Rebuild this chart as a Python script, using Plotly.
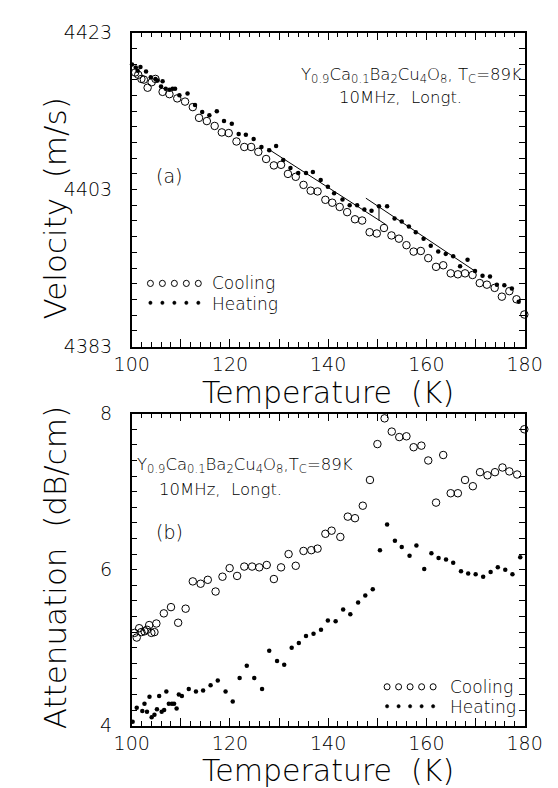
import plotly.graph_objects as go

# ---------------- data ----------------
# Panel (a): velocity vs temperature
COOL_A_T = [99.94, 100.70, 101.33, 101.97, 102.48, 103.24, 104.06, 104.83, 106.29, 107.68,
            109.27, 110.86, 112.44, 113.71, 115.30, 116.89, 118.35, 119.75, 121.33, 122.92,
            124.32, 125.78, 127.37, 128.95, 130.41, 131.81, 133.40, 134.98, 136.44, 137.84,
            139.43, 140.83, 142.35, 143.87, 145.46, 146.92, 148.44, 149.90, 151.37, 152.89,
            154.41, 155.94, 157.40, 158.86, 160.38, 161.97, 163.43, 164.95, 166.41, 167.87,
            169.40, 170.86, 172.32, 173.90, 175.37, 176.89, 178.35, 179.94]
COOL_A_V = [4417.92, 4417.92, 4417.63, 4417.10, 4417.01, 4415.98, 4416.68, 4417.10, 4415.45, 4415.16,
            4414.62, 4414.21, 4413.51, 4412.14, 4411.73, 4411.11, 4410.29, 4410.20, 4409.13, 4408.43,
            4408.43, 4407.81, 4406.90, 4406.08, 4406.16, 4405.00, 4404.63, 4403.60, 4402.86, 4402.77,
            4401.70, 4401.33, 4400.79, 4400.13, 4399.22, 4399.06, 4397.57, 4397.41, 4398.11, 4397.16,
            4396.75, 4395.92, 4395.10, 4395.18, 4394.27, 4393.16, 4393.36, 4392.33, 4392.21, 4392.33,
            4392.12, 4391.09, 4390.89, 4390.48, 4389.36, 4390.06, 4389.03, 4387.09]

HEAT_A_T = [100.06, 100.83, 101.21, 101.78, 102.92, 103.87, 104.83, 105.27, 105.97, 106.29,
            106.92, 107.68, 108.32, 108.83, 109.71, 111.37, 112.89, 114.35, 115.81, 117.33,
            118.79, 120.38, 121.78, 123.24, 124.83, 126.41, 128.00, 129.40, 130.86, 132.32,
            133.90, 135.49, 136.89, 138.48, 139.94, 141.21, 142.92, 144.38, 145.90, 147.37,
            148.83, 150.35, 152.00, 153.52, 154.98, 156.44, 157.84, 159.43, 160.89, 162.41,
            163.94, 165.46, 166.86, 168.38, 169.90, 171.43, 172.95, 174.35, 175.87, 177.40,
            178.79]
HEAT_A_V = [4418.95, 4418.54, 4418.13, 4418.62, 4418.05, 4417.30, 4417.10, 4416.89, 4416.15, 4416.81,
            4415.86, 4415.73, 4415.86, 4415.86, 4415.03, 4415.24, 4413.79, 4412.89, 4412.47, 4412.97,
            4411.73, 4411.40, 4410.08, 4409.99, 4409.46, 4408.43, 4408.02, 4408.55, 4406.78, 4405.75,
            4405.13, 4405.13, 4405.25, 4404.22, 4403.35, 4402.53, 4401.74, 4401.00, 4401.00, 4400.46,
            4400.30, 4400.87, 4400.87, 4399.31, 4398.93, 4398.31, 4397.57, 4396.75, 4395.84, 4395.10,
            4394.81, 4394.52, 4393.24, 4394.06, 4392.62, 4392.04, 4391.92, 4390.89, 4390.80, 4390.39,
            4388.70]

# straight fit segments drawn on panel (a)
FIT1_T = [127.68, 151.81]
FIT1_V = [4408.22, 4398.52]
FIT2_T = [147.68, 169.90]
FIT2_V = [4401.91, 4392.62]
STEP_T = [150.35, 150.35]
STEP_V = [4400.87, 4399.06]

# Panel (b): attenuation vs temperature
COOL_B_T = [99.94, 100.57, 101.02, 101.52, 101.97, 102.60, 103.11, 103.56, 104.00, 104.63,
            105.02, 106.54, 108.00, 109.46, 110.98, 112.44, 114.03, 115.49, 117.08, 118.48,
            119.94, 121.46, 122.92, 124.51, 125.97, 127.49, 128.95, 130.41, 131.94, 133.40,
            134.98, 136.57, 137.84, 139.43, 140.70, 142.48, 144.00, 145.46, 147.05, 148.51,
            150.03, 151.49, 152.95, 154.48, 155.94, 157.40, 158.98, 160.38, 161.97, 163.43,
            164.95, 166.41, 167.87, 169.46, 170.92, 172.44, 173.97, 175.49, 176.89, 178.48,
            179.94]
COOL_B_A = [4.99, 5.19, 5.13, 5.25, 5.20, 5.21, 5.23, 5.29, 5.19, 5.20,
            5.31, 5.44, 5.52, 5.32, 5.50, 5.85, 5.82, 5.87, 5.72, 5.91,
            6.02, 5.92, 6.04, 6.04, 6.03, 6.06, 5.88, 6.03, 6.20, 6.05,
            6.24, 6.25, 6.27, 6.46, 6.50, 6.42, 6.68, 6.66, 6.82, 7.15,
            7.61, 7.94, 7.77, 7.70, 7.71, 7.57, 7.59, 7.40, 6.86, 7.47,
            6.98, 6.98, 7.15, 7.07, 7.25, 7.21, 7.25, 7.31, 7.26, 7.22,
            7.80]

HEAT_B_T = [100.19, 101.02, 102.16, 102.60, 103.11, 103.62, 104.06, 104.63, 105.14, 105.59,
            106.10, 106.60, 107.05, 107.56, 108.19, 108.63, 109.14, 109.59, 110.22, 111.62,
            113.08, 114.54, 116.06, 117.52, 119.11, 120.57, 121.97, 123.43, 124.95, 126.54,
            128.00, 129.59, 131.05, 132.57, 134.03, 135.49, 137.02, 138.54, 139.94, 141.52,
            143.05, 144.51, 146.10, 147.56, 149.08, 150.54, 152.00, 153.59, 154.98, 156.57,
            157.97, 159.56, 161.02, 162.48, 164.00, 165.46, 167.05, 168.51, 170.03, 171.56,
            173.08, 174.54, 176.06, 177.52, 179.11]
HEAT_B_A = [4.05, 4.23, 4.19, 4.28, 4.18, 4.37, 4.11, 4.14, 4.21, 4.38,
            4.18, 4.20, 4.44, 4.28, 4.28, 4.28, 4.22, 4.40, 4.38, 4.47,
            4.44, 4.45, 4.52, 4.58, 4.44, 4.31, 4.61, 4.77, 4.61, 4.47,
            4.96, 4.83, 4.78, 5.00, 5.06, 5.15, 5.18, 5.23, 5.35, 5.34,
            5.49, 5.43, 5.58, 5.67, 5.75, 6.25, 6.58, 6.37, 6.29, 6.18,
            6.31, 6.01, 6.21, 6.15, 6.13, 6.09, 5.98, 5.95, 5.94, 5.91,
            5.97, 6.03, 6.00, 5.94, 6.16]

X_TICKS = [100, 110, 120, 130, 140, 150, 160, 170, 180]
X_TICK_TEXT = ["100", "", "120", "", "140", "", "160", "", "180"]
VA_TICKS = [4383, 4403, 4423]
AT_TICKS = [4, 6, 8]

# ---------------- styling ----------------
W, H = 558, 788
FONT = "DejaVu Sans"
WEIGHT = 200
BLACK = "black"


def px_x(p):
    return p / W


def px_y(p):
    return 1 - p / H


fig = go.Figure()

open_marker = dict(symbol="circle-open", size=7.5, color=BLACK, line=dict(width=1, color=BLACK))
dot_marker = dict(symbol="circle", size=4.5, color=BLACK)

fig.add_trace(go.Scatter(x=COOL_A_T, y=COOL_A_V, mode="markers", marker=open_marker,
                         xaxis="x", yaxis="y", cliponaxis=False, showlegend=False))
fig.add_trace(go.Scatter(x=HEAT_A_T, y=HEAT_A_V, mode="markers", marker=dot_marker,
                         xaxis="x", yaxis="y", cliponaxis=False, showlegend=False))
for tx, ty in [(FIT1_T, FIT1_V), (FIT2_T, FIT2_V), (STEP_T, STEP_V)]:
    fig.add_trace(go.Scatter(x=tx, y=ty, mode="lines", line=dict(color=BLACK, width=1),
                             xaxis="x", yaxis="y", showlegend=False))

fig.add_trace(go.Scatter(x=COOL_B_T, y=COOL_B_A, mode="markers", marker=open_marker,
                         xaxis="x2", yaxis="y2", cliponaxis=False, showlegend=False))
fig.add_trace(go.Scatter(x=HEAT_B_T, y=HEAT_B_A, mode="markers", marker=dot_marker,
                         xaxis="x2", yaxis="y2", cliponaxis=False, showlegend=False))

xdom = [px_x(113), px_x(533)]
dom_a = [px_y(337), px_y(14)]
dom_b = [px_y(727), px_y(406)]

tickfont = dict(family=FONT, size=19, color=BLACK, weight=WEIGHT)
common = dict(showline=True, linecolor=BLACK, linewidth=1.5, mirror="ticks",
              ticks="inside", tickcolor=BLACK, tickwidth=1.2, ticklen=8,
              showgrid=False, zeroline=False, tickfont=tickfont)

xax = dict(common, range=[100, 180], domain=xdom, tickmode="array",
           tickvals=X_TICKS, ticktext=X_TICK_TEXT, ticklabelstandoff=0,
           minor=dict(ticks="inside", dtick=2, tick0=100, ticklen=5, tickcolor=BLACK, tickwidth=1))

fig.update_layout(
    width=W, height=H, margin=dict(l=0, r=0, t=0, b=0),
    paper_bgcolor="white", plot_bgcolor="white",
    xaxis=dict(xax, anchor="y"),
    yaxis=dict(common, range=[4383, 4423], domain=dom_a, anchor="x", tickmode="array",
               tickvals=VA_TICKS, ticklen=6, ticklabelstandoff=14,
               minor=dict(ticks="inside", dtick=2, tick0=4383, ticklen=6, tickcolor=BLACK, tickwidth=1)),
    xaxis2=dict(xax, anchor="y2"),
    yaxis2=dict(common, range=[4, 8], domain=dom_b, anchor="x2", tickmode="array",
                tickvals=AT_TICKS, ticklen=6, ticklabelstandoff=14,
                minor=dict(ticks="inside", dtick=0.2, tick0=4, ticklen=6, tickcolor=BLACK, tickwidth=1)),
    showlegend=False,
)

ann = []


def add_text(text, x, y, size, xanchor="center", angle=0):
    ann.append(dict(text=text, x=px_x(x), y=px_y(y), xref="paper", yref="paper",
                    xanchor=xanchor, yanchor="middle", showarrow=False, textangle=angle,
                    font=dict(family=FONT, size=size, color=BLACK, weight=WEIGHT)))


# axis titles
add_text("Temperature  (K)", 323, 384, 30)
add_text("Temperature  (K)", 323, 773, 30)
add_text("Velocity  (m/s)", 31, 195, 31, angle=-90)
add_text("Attenuation  (dB/cm)", 31, 565, 31, angle=-90)

# panel labels
compound = "Y<sub>0.9</sub>Ca<sub>0.1</sub>Ba<sub>2</sub>Cu<sub>4</sub>O<sub>8</sub>, T<sub>C</sub>=89K"
compound_b = "Y<sub>0.9</sub>Ca<sub>0.1</sub>Ba<sub>2</sub>Cu<sub>4</sub>O<sub>8</sub>,T<sub>C</sub>=89K"
add_text(compound, 292, 58, 16.5, xanchor="left")
add_text("10MHz,  Longt.", 332, 81, 16.5, xanchor="left")
add_text("(a)", 137, 162, 19, xanchor="left")
add_text(compound_b, 117, 459, 16.5, xanchor="left")
add_text("10MHz,  Longt.", 140, 484, 16.5, xanchor="left")
add_text("(b)", 137, 528, 19, xanchor="left")

# legends
LEG_A = (272, 293)
LEG_B = (687, 708)
add_text("Cooling", 197, LEG_A[0], 17, xanchor="left")
add_text("Heating", 197, LEG_A[1], 17, xanchor="left")
add_text("Cooling", 451, LEG_B[0], 17, xanchor="left")
add_text("Heating", 451, LEG_B[1], 17, xanchor="left")

shapes = []


def legend_marks(x_start, step, y_open, y_dot):
    for i in range(5):
        cx = x_start + i * step
        r = 3.2
        shapes.append(dict(type="circle", xref="paper", yref="paper",
                           x0=px_x(cx - r), x1=px_x(cx + r), y0=px_y(y_open + r), y1=px_y(y_open - r),
                           line=dict(color=BLACK, width=1), fillcolor="rgba(0,0,0,0)"))
        rd = 1.8
        shapes.append(dict(type="circle", xref="paper", yref="paper",
                           x0=px_x(cx - rd), x1=px_x(cx + rd), y0=px_y(y_dot + rd), y1=px_y(y_dot - rd),
                           line=dict(color=BLACK, width=0.5), fillcolor=BLACK))


legend_marks(133, 12.8, LEG_A[0], LEG_A[1] - 1)
legend_marks(386, 12.3, LEG_B[0], LEG_B[1] - 1)

fig.update_layout(annotations=ann, shapes=shapes)

fig.write_html("out.html")
